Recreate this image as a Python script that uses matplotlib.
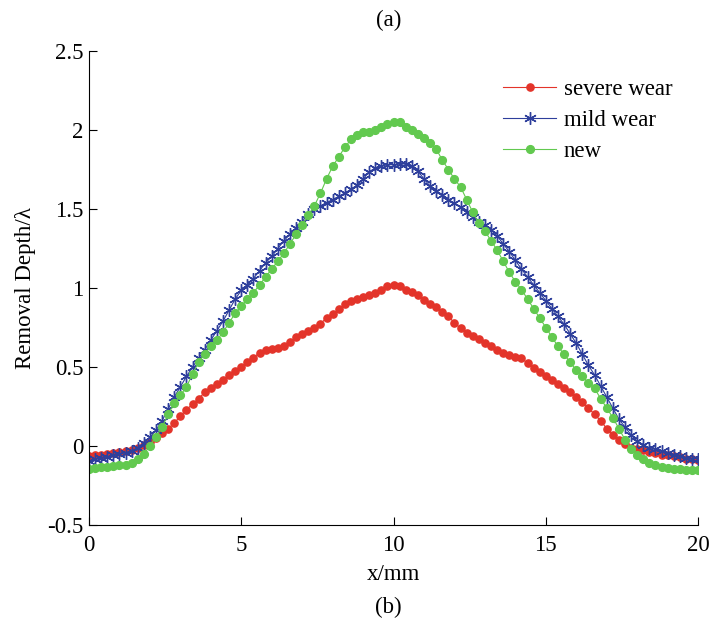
import numpy as np
import matplotlib
matplotlib.use("Agg")
import matplotlib.pyplot as plt

plt.rcParams['font.family'] = ['Liberation Serif', 'DejaVu Serif']

severe_wear = [
    -0.063, -0.060, -0.056, -0.052, -0.046, -0.040, -0.034, -0.026, -0.012, 0.005,
    0.025, 0.05, 0.08, 0.11, 0.145, 0.19, 0.23, 0.265, 0.30, 0.34,
    0.365, 0.39, 0.42, 0.45, 0.475, 0.50, 0.53, 0.56, 0.59, 0.61,
    0.615, 0.62, 0.635, 0.66, 0.69, 0.71, 0.725, 0.745, 0.775, 0.81,
    0.835, 0.865, 0.90, 0.92, 0.93, 0.94, 0.955, 0.97, 0.99, 1.01,
    1.02, 1.01, 0.99, 0.975, 0.955, 0.925, 0.90, 0.88, 0.85, 0.82,
    0.78, 0.745, 0.715, 0.695, 0.675, 0.655, 0.635, 0.61, 0.59, 0.575,
    0.565, 0.555, 0.525, 0.495, 0.47, 0.445, 0.42, 0.395, 0.37, 0.34,
    0.31, 0.28, 0.24, 0.20, 0.16, 0.11, 0.07, 0.04, 0.01, -0.01,
    -0.02, -0.025, -0.035, -0.045, -0.055, -0.06, -0.065, -0.07, -0.08, -0.085,
    -0.09,
]

mild_wear = [
    -0.095, -0.085, -0.075, -0.068, -0.06, -0.052, -0.042, -0.03, -0.01, 0.02,
    0.055, 0.10, 0.16, 0.235, 0.31, 0.375, 0.44, 0.50, 0.555, 0.61,
    0.67, 0.73, 0.79, 0.86, 0.93, 0.985, 1.02, 1.06, 1.11, 1.16,
    1.20, 1.25, 1.30, 1.34, 1.38, 1.42, 1.47, 1.50, 1.52, 1.54,
    1.56, 1.58, 1.60, 1.625, 1.65, 1.69, 1.735, 1.76, 1.775, 1.78,
    1.78, 1.785, 1.785, 1.77, 1.74, 1.69, 1.645, 1.615, 1.59, 1.56,
    1.535, 1.51, 1.48, 1.45, 1.42, 1.40, 1.37, 1.33, 1.28, 1.23,
    1.175, 1.12, 1.07, 1.02, 0.97, 0.92, 0.87, 0.82, 0.77, 0.71,
    0.65, 0.58, 0.51, 0.45, 0.38, 0.31, 0.24, 0.17, 0.12, 0.07,
    0.03, 0.005, -0.01, -0.02, -0.03, -0.045, -0.055, -0.065, -0.075, -0.08,
    -0.08,
]

new = [
    -0.145, -0.14, -0.135, -0.13, -0.125, -0.12, -0.118, -0.11, -0.085, -0.05,
    0.0, 0.06, 0.12, 0.20, 0.27, 0.32, 0.375, 0.455, 0.53, 0.585,
    0.63, 0.67, 0.72, 0.78, 0.84, 0.885, 0.93, 0.97, 1.02, 1.07,
    1.12, 1.17, 1.22, 1.28, 1.34, 1.40, 1.46, 1.52, 1.60, 1.69,
    1.77, 1.83, 1.89, 1.94, 1.97, 1.985, 1.99, 2.0, 2.02, 2.04,
    2.05, 2.05, 2.02, 2.0, 1.975, 1.95, 1.92, 1.88, 1.81, 1.75,
    1.69, 1.64, 1.56, 1.48, 1.41, 1.36, 1.30, 1.24, 1.17, 1.10,
    1.04, 0.99, 0.93, 0.87, 0.81, 0.75, 0.69, 0.63, 0.58, 0.53,
    0.48, 0.44, 0.40, 0.365, 0.30, 0.24, 0.18, 0.11, 0.04, -0.02,
    -0.06, -0.085, -0.11, -0.12, -0.13, -0.14, -0.145, -0.148, -0.15, -0.152,
    -0.155,
]

labels = ["severe wear", "mild wear", "new"]
x_ticks = [0, 5, 10, 15, 20]
y_ticks = [-0.5, 0, 0.5, 1, 1.5, 2, 2.5]
y_ticklabels = ["-0.5", "0", "0.5", "1", "1.5", "2", "2.5"]

FS = 16.5

fig = plt.figure(figsize=(7.16, 6.25), dpi=100)
ax = fig.add_axes([0.1243, 0.16, 0.8507, 0.7584])

red = '#E3342A'
blue = '#2E3F9C'
green = '#62C94F'

x_r = np.linspace(0, 20, len(severe_wear))
x_b = np.linspace(0, 20, len(mild_wear))
x_g = np.linspace(0, 20, len(new))

ax.plot(x_r, severe_wear, color=red, lw=0.8, marker='o', ms=5.2, mec=red, mfc=red, label=labels[0])
ax.plot(x_b, mild_wear, color=blue, lw=0.8, marker=(6, 2, 0), ms=9, mew=1.0, mec=blue, label=labels[1])
ax.plot(x_g, new, color=green, lw=0.8, marker='o', ms=5.6, mec=green, mfc=green, label=labels[2])

ax.set_xlim(0, 20)
ax.set_ylim(-0.5, 2.5)
ax.set_xticks(x_ticks)
ax.set_yticks(y_ticks)
ax.set_yticklabels(y_ticklabels)
ax.tick_params(direction='in', length=6, width=0.8, labelsize=FS)
ax.tick_params(axis='x', pad=7)
ax.tick_params(axis='y', pad=4)
for s in ['top', 'right']:
    ax.spines[s].set_visible(False)
for s in ['left', 'bottom']:
    ax.spines[s].set_linewidth(0.8)

ax.set_xlabel('x/mm', fontsize=FS, labelpad=6)
ax.set_ylabel('Removal Depth/λ', fontsize=FS, labelpad=8)

leg = ax.legend(loc='upper right', bbox_to_anchor=(0.992, 0.985), frameon=False, fontsize=FS,
                handlelength=2.3, handletextpad=0.35, labelspacing=0.45, markerscale=1.0)

fig.text(0.543, 0.968, '(a)', ha='center', va='center', fontsize=FS)
fig.text(0.543, 0.028, '(b)', ha='center', va='center', fontsize=FS)

fig.savefig('out.png', dpi=100)
